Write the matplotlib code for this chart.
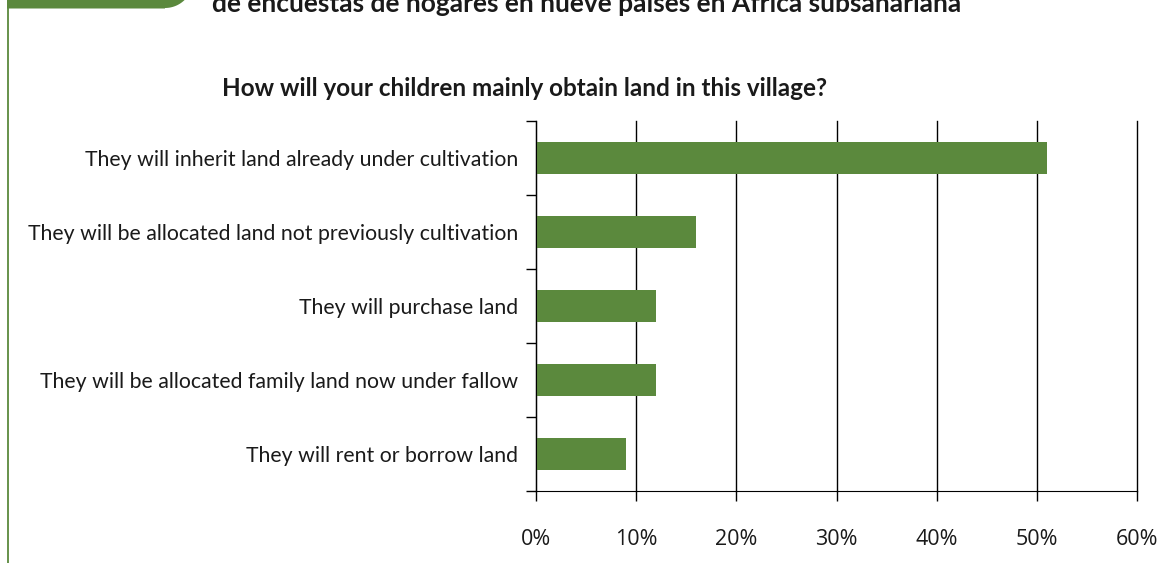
import numpy as np
import matplotlib.pyplot as plt
from matplotlib.patches import Polygon

# survey answers, top to bottom
answers = [
    'They will inherit land already under cultivation',
    'They will be allocated land not previously cultivation',
    'They will purchase land',
    'They will be allocated family land now under fallow',
    'They will rent or borrow land',
]
shares = [51, 16, 12, 12, 9]
x_ticks = [0, 10, 20, 30, 40, 50, 60]
x_labels = ['0%', '10%', '20%', '30%', '40%', '50%', '60%']

green = '#5B893D'
W, H = 1159, 563

fig = plt.figure(figsize=(W / 100, H / 100), dpi=100)

# page furniture drawn in pixel units
page = fig.add_axes([0, 0, 1, 1])
page.set_xlim(0, W)
page.set_ylim(H, 0)
page.axis('off')

# green tab with rounded right corner
cx, cy, r = 165, -20, 28
ang = np.linspace(0, np.pi / 2, 30)
arc = [(cx + r * np.cos(a), cy + r * np.sin(a)) for a in ang]
tab = [(7, -5), (7, 8.5), (cx, 8.5)] + arc[::-1] + [(cx + r, -5)]
page.add_patch(Polygon(tab, closed=True, facecolor=green, edgecolor='none'))
page.plot([7.5, 7.5], [0, H], color=green, lw=1.3)

page.text(212, 11.5, 'de encuestas de hogares en nueve países en África subsahariana',
          fontsize=19, fontweight='bold', family='Lato', color='#1a1a1a',
          ha='left', va='baseline')
page.text(525, 88, 'How will your children mainly obtain land in this village?',
          fontsize=17.5, fontweight='bold', family='Lato', color='#1a1a1a',
          ha='center', va='center')

ax = fig.add_axes([536 / W, 1 - 491 / H, (1137 - 536) / W, (491 - 121) / H])
y = np.arange(len(answers))
ax.barh(y, shares, height=0.42, color=green, zorder=2)

ax.set_xlim(0, 60)
ax.set_ylim(len(answers) - 0.5, -0.5)

ax.set_xticks(x_ticks)
ax.set_xticklabels(x_labels, family='Open Sans', fontsize=15.5, color='#1a1a1a')
ax.tick_params(axis='x', length=7.5, width=1, direction='out', pad=20)
ax.grid(axis='x', color='black', lw=1, zorder=1)
for gl in ax.get_xgridlines():
    gl.set_clip_on(False)

ax.set_yticks(y)
ax.set_yticklabels(answers, family='Lato', fontsize=15.3, color='#1a1a1a')
ax.tick_params(axis='y', which='major', length=0, pad=13)
ax.set_yticks(np.arange(-0.5, len(answers)), minor=True)
ax.tick_params(axis='y', which='minor', length=7, width=1)

for s in ['top', 'right']:
    ax.spines[s].set_visible(False)
ax.spines['left'].set_zorder(3)
ax.spines['bottom'].set_zorder(3)

fig.savefig('out.png', dpi=100)
